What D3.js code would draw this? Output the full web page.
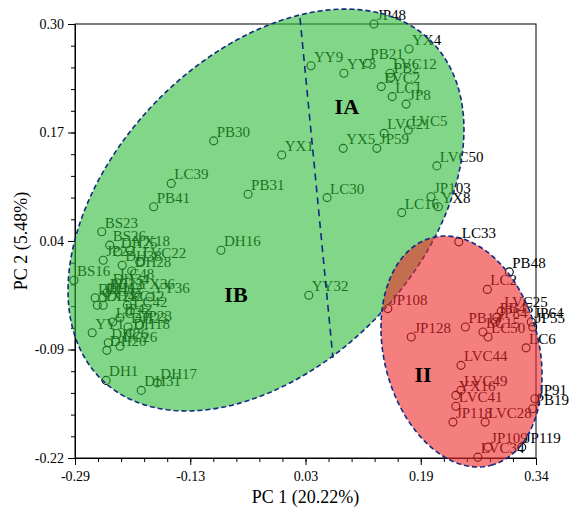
<!DOCTYPE html>
<html>
<head>
<meta charset="utf-8">
<script src="https://cdnjs.cloudflare.com/ajax/libs/d3/7.8.5/d3.min.js"></script>
<style>
body { margin: 0; background: #fff; }
svg { display: block; font-family: "Liberation Serif", "Times New Roman", serif; }
</style>
</head>
<body>
<div id="chart"></div>
<script>
'use strict';

// axis ticks (labels are rounded on the original plot)
var xTickValues = [-0.2875, -0.13, 0.0275, 0.185, 0.3425];
var xTickLabels = ["-0.29", "-0.13", "0.03", "0.19", "0.34"];
var yTickValues = [-0.22, -0.09, 0.04, 0.17, 0.30];
var yTickLabels = ["-0.22", "-0.09", "0.04", "0.17", "0.30"];

// group I (green)
var greenNames = ["BS23","BS26","DH25","YX18","JP22","LVC22","DH38","DH28","BS16","LC48",
    "DH34","PB22","YX36","YY36","DH40","DH12","YX22","DH42","LC12","LC42",
    "JP42","LC23","DH23","JP23","YY1","DH18","DH26","LC26","DH20","DH1",
    "DH31","DH17","PB41","LC39","PB30","PB31","DH16","YX1","YY32","LC30",
    "YY9","YY3","PB21","JP48","YX4","LVC12","PB2","LVC2","LC1","JP8",
    "LVC21","LVC5","YX5","JP59","LVC50","JP103","YX8","LC16"];
var greenPC1 = [-0.251,-0.240,-0.229,-0.212,-0.249,-0.199,-0.223,-0.210,-0.289,-0.230,
    -0.240,-0.244,-0.205,-0.185,-0.260,-0.249,-0.257,-0.249,-0.216,-0.212,
    -0.226,-0.236,-0.215,-0.199,-0.264,-0.212,-0.242,-0.226,-0.244,-0.245,
    -0.197,-0.175,-0.180,-0.156,-0.098,-0.051,-0.088,-0.005,0.032,0.057,
    0.035,0.080,0.112,0.121,0.169,0.143,0.144,0.131,0.146,0.165,
    0.135,0.168,0.079,0.125,0.207,0.199,0.209,0.159];
var greenPC2 = [0.051,0.035,0.027,0.029,0.017,0.015,0.011,0.004,-0.007,-0.010,
    -0.016,-0.022,-0.022,-0.027,-0.028,-0.028,-0.037,-0.037,-0.037,-0.044,
    -0.052,-0.057,-0.063,-0.061,-0.070,-0.070,-0.082,-0.086,-0.091,-0.127,
    -0.139,-0.130,0.081,0.109,0.160,0.096,0.029,0.143,-0.025,0.092,
    0.250,0.241,0.253,0.300,0.270,0.241,0.236,0.225,0.213,0.204,
    0.169,0.173,0.151,0.151,0.130,0.093,0.081,0.074];

// group II (red)
var redNames = ["LC33","PB48","LC2","JP108","LVC25","PB45","JP84","JP64","JP55","PB13",
    "LC15","LC50","JP128","LC6","LVC44","LVC49","YX16","LVC41","JP118","LVC28",
    "JP91","PB19","JP109","JP119","LVC34"];
var redPC1 = [0.237,0.306,0.276,0.140,0.295,0.289,0.287,0.336,0.338,0.246,
    0.270,0.277,0.172,0.329,0.240,0.240,0.233,0.233,0.229,0.273,
    0.341,0.338,0.277,0.323,0.263];
var redPC2 = [0.039,0.003,-0.018,-0.041,-0.044,-0.051,-0.057,-0.057,-0.063,-0.063,
    -0.069,-0.075,-0.075,-0.088,-0.109,-0.139,-0.145,-0.158,-0.177,-0.177,
    -0.149,-0.161,-0.207,-0.207,-0.219];

// confidence ellipses: centre and two conjugate semi-axes, in PC units
var greenEllipse = {center: [-0.0265, 0.0771], u: [0.2239, 0.2038], v: [0.1519, -0.1282]};
var redEllipse   = {center: [0.2407, -0.0924], u: [0.0403, -0.1364], v: [0.1024, 0.0233]};
// line splitting IA / IB
var splitLine = [[0.020, 0.307], [0.065, -0.100]];
var regionNames = ["IA", "IB", "II"];
var regionPC1 = [0.084, -0.0675, 0.188];
var regionPC2 = [0.192, -0.033, -0.129];

var width = 571, height = 513;

var svg = d3.select("#chart").append("svg")
    .attr("width", width).attr("height", height);

var x = d3.scaleLinear().domain([-0.2875, 0.3425]).range([75, 536]);
var y = d3.scaleLinear().domain([-0.22, 0.30]).range([458, 24]);

// frame
svg.append("rect")
    .attr("x", x.range()[0]).attr("y", y.range()[1])
    .attr("width", x.range()[1] - x.range()[0])
    .attr("height", y.range()[0] - y.range()[1])
    .style("fill", "none").style("stroke", "#000").style("stroke-width", 1);

// minor ticks
var xMinor = d3.range(21).map(function(i){ return -0.2875 + i * 0.0315; });
var yMinor = d3.range(21).map(function(i){ return -0.22 + i * 0.026; });

svg.append("g")
    .attr("transform", "translate(0," + y.range()[0] + ")")
    .call(d3.axisBottom(x).tickValues(xMinor).tickSize(4).tickSizeOuter(0).tickFormat(""));
svg.append("g")
    .attr("transform", "translate(" + x.range()[0] + ",0)")
    .call(d3.axisLeft(y).tickValues(yMinor).tickSize(4).tickSizeOuter(0).tickFormat(""));

// major axes
var xAxis = d3.axisBottom(x).tickValues(xTickValues).tickSize(7).tickSizeOuter(0).tickPadding(6)
    .tickFormat(function(d, i){ return xTickLabels[i]; });
var yAxis = d3.axisLeft(y).tickValues(yTickValues).tickSize(7).tickSizeOuter(0).tickPadding(4)
    .tickFormat(function(d, i){ return yTickLabels[i]; });

svg.append("g").attr("class", "axis")
    .attr("transform", "translate(0," + y.range()[0] + ")")
    .call(xAxis);
svg.append("g").attr("class", "axis")
    .attr("transform", "translate(" + x.range()[0] + ",0)")
    .call(yAxis);

svg.selectAll(".axis text")
    .style("font-family", "Liberation Serif").style("font-size", "14px").style("fill", "#000");
svg.selectAll(".tick line, .domain").style("stroke", "#000");

// points and labels (ellipses are laid over them afterwards)
function drawPoints(names, pc1, pc2) {
    var g = svg.append("g");
    names.forEach(function(n, i){
        g.append("circle")
            .attr("cx", x(pc1[i])).attr("cy", y(pc2[i])).attr("r", 4)
            .style("fill", "none").style("stroke", "#000").style("stroke-width", 1.1);
        g.append("text")
            .attr("x", x(pc1[i]) + 3).attr("y", y(pc2[i]) - 4)
            .style("font-size", "15px").style("fill", "#000")
            .text(n);
    });
}
drawPoints(greenNames, greenPC1, greenPC2);
drawPoints(redNames, redPC1, redPC2);

// ellipses
var ellipseLine = d3.line()
    .x(function(d){ return x(d[0]); })
    .y(function(d){ return y(d[1]); })
    .curve(d3.curveLinearClosed);

function ellipsePoints(e) {
    return d3.range(0, 2 * Math.PI, Math.PI / 90).map(function(t){
        return [e.center[0] + e.u[0] * Math.cos(t) + e.v[0] * Math.sin(t),
                e.center[1] + e.u[1] * Math.cos(t) + e.v[1] * Math.sin(t)];
    });
}

svg.append("path")
    .attr("d", ellipseLine(ellipsePoints(greenEllipse)))
    .style("fill", "rgb(47,187,55)").style("fill-opacity", 0.6)
    .style("stroke", "#132a80").style("stroke-width", 1.6).style("stroke-dasharray", "5,3");
svg.append("path")
    .attr("d", ellipseLine(ellipsePoints(redEllipse)))
    .style("fill", "rgb(238,42,42)").style("fill-opacity", 0.6)
    .style("stroke", "#132a80").style("stroke-width", 1.6).style("stroke-dasharray", "5,3");

svg.append("path")
    .attr("d", d3.line().x(function(d){ return x(d[0]); }).y(function(d){ return y(d[1]); })(splitLine))
    .style("fill", "none")
    .style("stroke", "#132a80").style("stroke-width", 1.6).style("stroke-dasharray", "7,5");

// region labels
regionNames.forEach(function(n, i){
    svg.append("text")
        .attr("x", x(regionPC1[i])).attr("y", y(regionPC2[i]))
        .attr("text-anchor", "middle")
        .style("font-size", "22px").style("font-weight", "bold").style("fill", "#000")
        .text(n);
});

// axis titles
svg.append("text")
    .attr("x", (x.range()[0] + x.range()[1]) / 2).attr("y", 503)
    .attr("text-anchor", "middle").style("font-size", "18px")
    .text("PC 1 (20.22%)");
svg.append("text")
    .attr("transform", "translate(27," + (y.range()[0] + y.range()[1]) / 2 + ") rotate(-90)")
    .attr("text-anchor", "middle").style("font-size", "18px")
    .text("PC 2 (5.48%)");
</script>
</body>
</html>
